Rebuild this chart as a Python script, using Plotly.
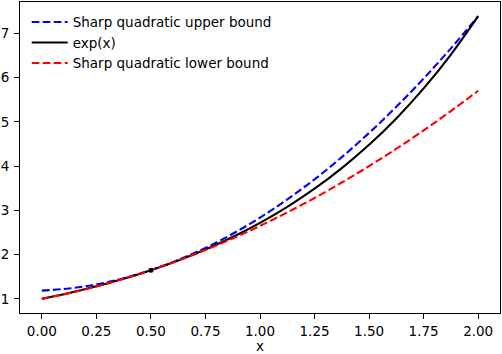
import plotly.graph_objects as go

# sample points
x_vals = [0.0, 0.125, 0.25, 0.375, 0.5, 0.625, 0.75, 0.875, 1.0,
          1.125, 1.25, 1.375, 1.5, 1.625, 1.75, 1.875, 2.0]
upper_bound = [1.187, 1.235, 1.327, 1.465, 1.649, 1.878, 2.152, 2.471, 2.836,
               3.246, 3.702, 4.203, 4.750, 5.341, 5.979, 6.661, 7.389]
exp_vals = [1.000, 1.133, 1.284, 1.455, 1.649, 1.868, 2.117, 2.399, 2.718,
            3.080, 3.490, 3.955, 4.482, 5.078, 5.755, 6.521, 7.389]
lower_bound = [1.000, 1.129, 1.280, 1.454, 1.649, 1.866, 2.105, 2.366, 2.649,
               2.954, 3.280, 3.629, 4.000, 4.393, 4.807, 5.244, 5.703]
touch_x = [0.5]
touch_y = [1.649]

x_ticks = [0.0, 0.25, 0.5, 0.75, 1.0, 1.25, 1.5, 1.75, 2.0]
x_tick_text = ["0.00", "0.25", "0.50", "0.75", "1.00", "1.25", "1.50", "1.75", "2.00"]
y_ticks = [1, 2, 3, 4, 5, 6, 7]

FONT = "DejaVu Sans"
DASH = "7.7px,3.3px"

fig = go.Figure()

fig.add_trace(go.Scatter(
    x=x_vals, y=upper_bound, mode="lines", name="Sharp quadratic upper bound",
    line=dict(color="#0000ff", width=2.1, dash=DASH, shape="spline"),
))
fig.add_trace(go.Scatter(
    x=x_vals, y=exp_vals, mode="lines", name="exp(x)",
    line=dict(color="#000000", width=2.1, shape="spline"),
))
fig.add_trace(go.Scatter(
    x=x_vals, y=lower_bound, mode="lines", name="Sharp quadratic lower bound",
    line=dict(color="#ff0000", width=2.1, dash=DASH, shape="spline"),
))
fig.add_trace(go.Scatter(
    x=touch_x, y=touch_y, mode="markers", showlegend=False,
    marker=dict(color="#000000", size=5),
))

axis_style = dict(
    showgrid=False, zeroline=False, showline=True, linecolor="black",
    linewidth=1.1, mirror=True, ticks="outside", ticklen=5, tickwidth=1.1,
    tickcolor="black", tickfont=dict(family=FONT, size=13.5, color="black"),
)

fig.update_xaxes(
    range=[-0.1, 2.1], tickvals=x_ticks, ticktext=x_tick_text,
    ticklabelstandoff=1, automargin=False,
    **axis_style,
)
fig.update_yaxes(range=[0.681, 7.708], tickvals=y_ticks,
                 ticklabelstandoff=2, automargin=False, **axis_style)

# x-axis label placed just under the tick labels, like the original
fig.add_annotation(
    text="x", xref="paper", yref="paper", x=0.5, y=0,
    xanchor="center", yanchor="middle", yshift=-33, borderpad=0,
    showarrow=False, font=dict(family=FONT, size=13.5, color="black"),
)

fig.update_layout(
    width=502, height=354,
    margin=dict(l=20, r=2, t=2, b=41),
    plot_bgcolor="white", paper_bgcolor="white",
    font=dict(family=FONT, size=13.5, color="black"),
    legend=dict(
        x=0.014, y=0.985, xanchor="left", yanchor="top",
        bgcolor="rgba(0,0,0,0)", itemwidth=36, tracegroupgap=0,
        font=dict(family=FONT, size=13.5, color="black"),
    ),
)

# drop the browser's default page margin so the figure sits at the window corner
fig.write_html(
    "out.html",
    config={"displayModeBar": False},
    post_script="document.body.style.margin='0';document.body.style.overflow='hidden';",
)
